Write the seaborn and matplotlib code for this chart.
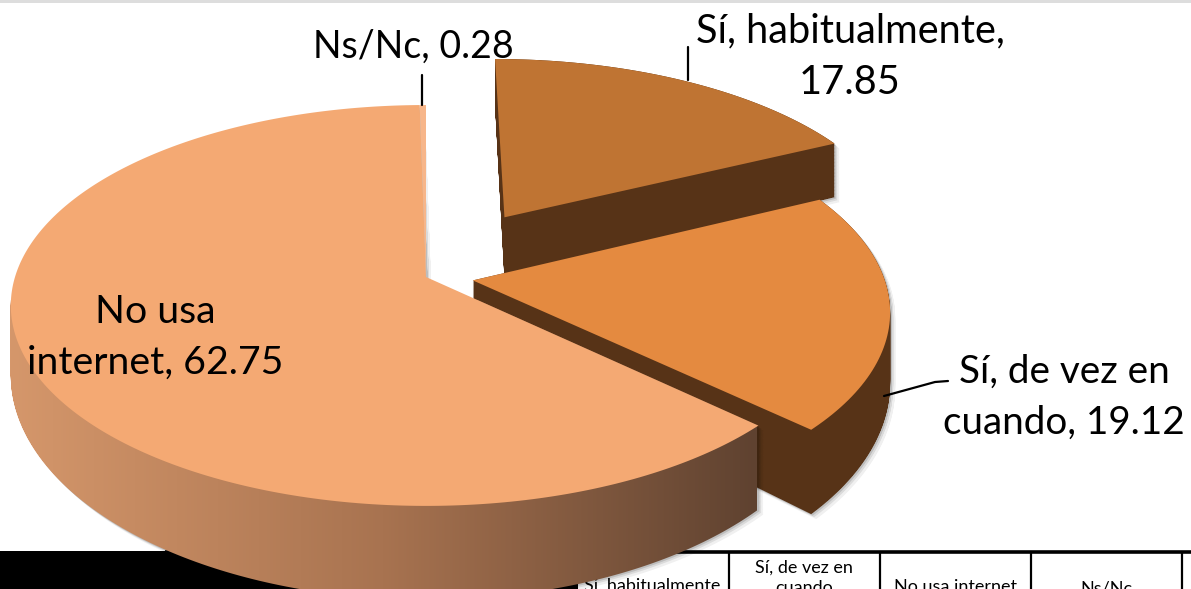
import numpy as np
import matplotlib
matplotlib.use("Agg")
import matplotlib.pyplot as plt
from matplotlib.colors import LinearSegmentedColormap
from matplotlib.patches import PathPatch, Rectangle
from matplotlib.path import Path
from matplotlib.transforms import Affine2D, Transform
import seaborn as sns

# data
categories = ["Sí, habitualmente", "Sí, de vez en cuando", "No usa internet", "Ns/Nc"]
values = [17.85, 19.12, 62.75, 0.28]
explode = [0.375, 0.115, 0, 0]
top_colors = ["#BF7433", "#E48A40", "#F4A973", "#F7B68A"]
wall_color = "#573317"
table_heads = ["Sí, habitualmente", "Sí, de vez en\ncuando", "No usa internet", "Ns/Nc"]
table_lines = [729, 880, 1031, 1182]

sns.set_theme(style="white")
plt.rcParams["font.family"] = ["Lato", "DejaVu Sans"]


# maps the flat unit pie to picture pixels, tilted with some perspective
class TiltedPie(Transform):
    input_dims = 2
    output_dims = 2
    is_affine = False

    def __init__(self, z=0, shift=0):
        super().__init__()
        self.z = z
        self.shift = shift

    def transform_non_affine(self, xy):
        xy = np.asarray(xy, dtype=float)
        w = 1 + 0.142 * xy[:, 1]
        px = 426 + 411 * xy[:, 0] / w + self.shift
        py = 277 - 196.4 * xy[:, 1] / w + self.z * 67 / w ** 2.2 + self.shift
        return np.column_stack([px, py])

    def transform_path_non_affine(self, path):
        polys = path.to_polygons(Affine2D().scale(2000), closed_only=False)
        return Path(self.transform_non_affine(polys[0] / 2000))


def side_path(wedge, shift=0):
    # every depth step of the slice joined to one outline
    flat = wedge.get_patch_transform().transform_path(wedge.get_path())
    layers = [TiltedPie(z, shift).transform_path_non_affine(flat)
              for z in np.linspace(0, 1, 70)]
    parts = [Path(np.vstack([p.vertices, p.vertices[0]]), closed=True) for p in layers]
    return Path.make_compound_path(*parts)


fig = plt.figure(figsize=(11.91, 5.89), dpi=100, facecolor="white")
ax = fig.add_axes([0, 0, 1, 1])

wedges, _ = ax.pie(values, explode=explode, colors=sns.color_palette(top_colors),
                   startangle=90, counterclock=False, radius=1,
                   wedgeprops={"linewidth": 0, "edgecolor": "none"})

# black block and table below the pie
ax.add_patch(Rectangle((0, 551), 578, 40, color="black", zorder=1, lw=0))
ax.plot([165, 1191], [552, 552], color="black", lw=2.6, zorder=1, solid_capstyle="butt")
ax.add_patch(Rectangle((0, 0), 1191, 3, color="#DDDDDD", zorder=1, lw=0))
for x in table_lines:
    ax.plot([x, x], [552, 589], color="black", lw=1.6, zorder=1)
for x, head, y in zip([652, 804, 955, 1106], table_heads, [586, 578, 587, 588]):
    ax.text(x, y, head, ha="center", va="center",
            fontsize=13, color="black", zorder=1, linespacing=1.3)

# soft shadow then sides and tops, back slice first
z = 2
for i in [0, 1, 2]:
    for shift, a in [(5, 0.06), (3, 0.09), (1.5, 0.13)]:
        ax.add_patch(PathPatch(side_path(wedges[i], shift), fc="black", ec="none",
                               alpha=a, zorder=z))
    z += 1
    sides = side_path(wedges[i])
    if i < 2:
        ax.add_patch(PathPatch(sides, fc=wall_color, ec="none", zorder=z))
    else:
        cmap = LinearSegmentedColormap.from_list("side", ["#D5976B", "#A87350", "#5F4230"])
        im = ax.imshow(np.linspace(0, 1, 256)[None, :], cmap=cmap, aspect="auto",
                       extent=(10, 757, 620, 300), zorder=z)
        im.set_clip_path(sides, ax.transData)
    z += 1
    wedges[i].set_transform(TiltedPie() + ax.transData)
    wedges[i].set_zorder(z)
    z += 1
wedges[3].set_transform(TiltedPie() + ax.transData)
wedges[3].set_zorder(z)

# leader lines
ax.plot([422, 422], [75, 105], color="black", lw=1.6, zorder=20)
ax.plot([688, 688], [47, 80], color="black", lw=1.6, zorder=20)
ax.plot([884, 935, 948], [396, 382, 381], color="black", lw=1.6, zorder=20)

# data labels
ax.text(413, 47, f"{categories[3]}, {values[3]:.2f}", ha="center", va="center",
        fontsize=27, color="black", zorder=21)
ax.text(850, 57, f"{categories[0]},\n{values[0]:.2f}", ha="center", va="center",
        fontsize=28.6, color="black", zorder=21, linespacing=1.5)
ax.text(155, 337, f"No usa\ninternet, {values[2]:.2f}", ha="center", va="center",
        fontsize=28.3, color="black", zorder=21, linespacing=1.5)
ax.text(1064, 397, f"Sí, de vez en\ncuando, {values[1]:.2f}", ha="center", va="center",
        fontsize=27.8, color="black", zorder=21, linespacing=1.5)

ax.set_aspect("auto")
ax.set_xlim(0, 1191)
ax.set_ylim(589, 0)
ax.axis("off")
fig.savefig("out.png", dpi=100)
